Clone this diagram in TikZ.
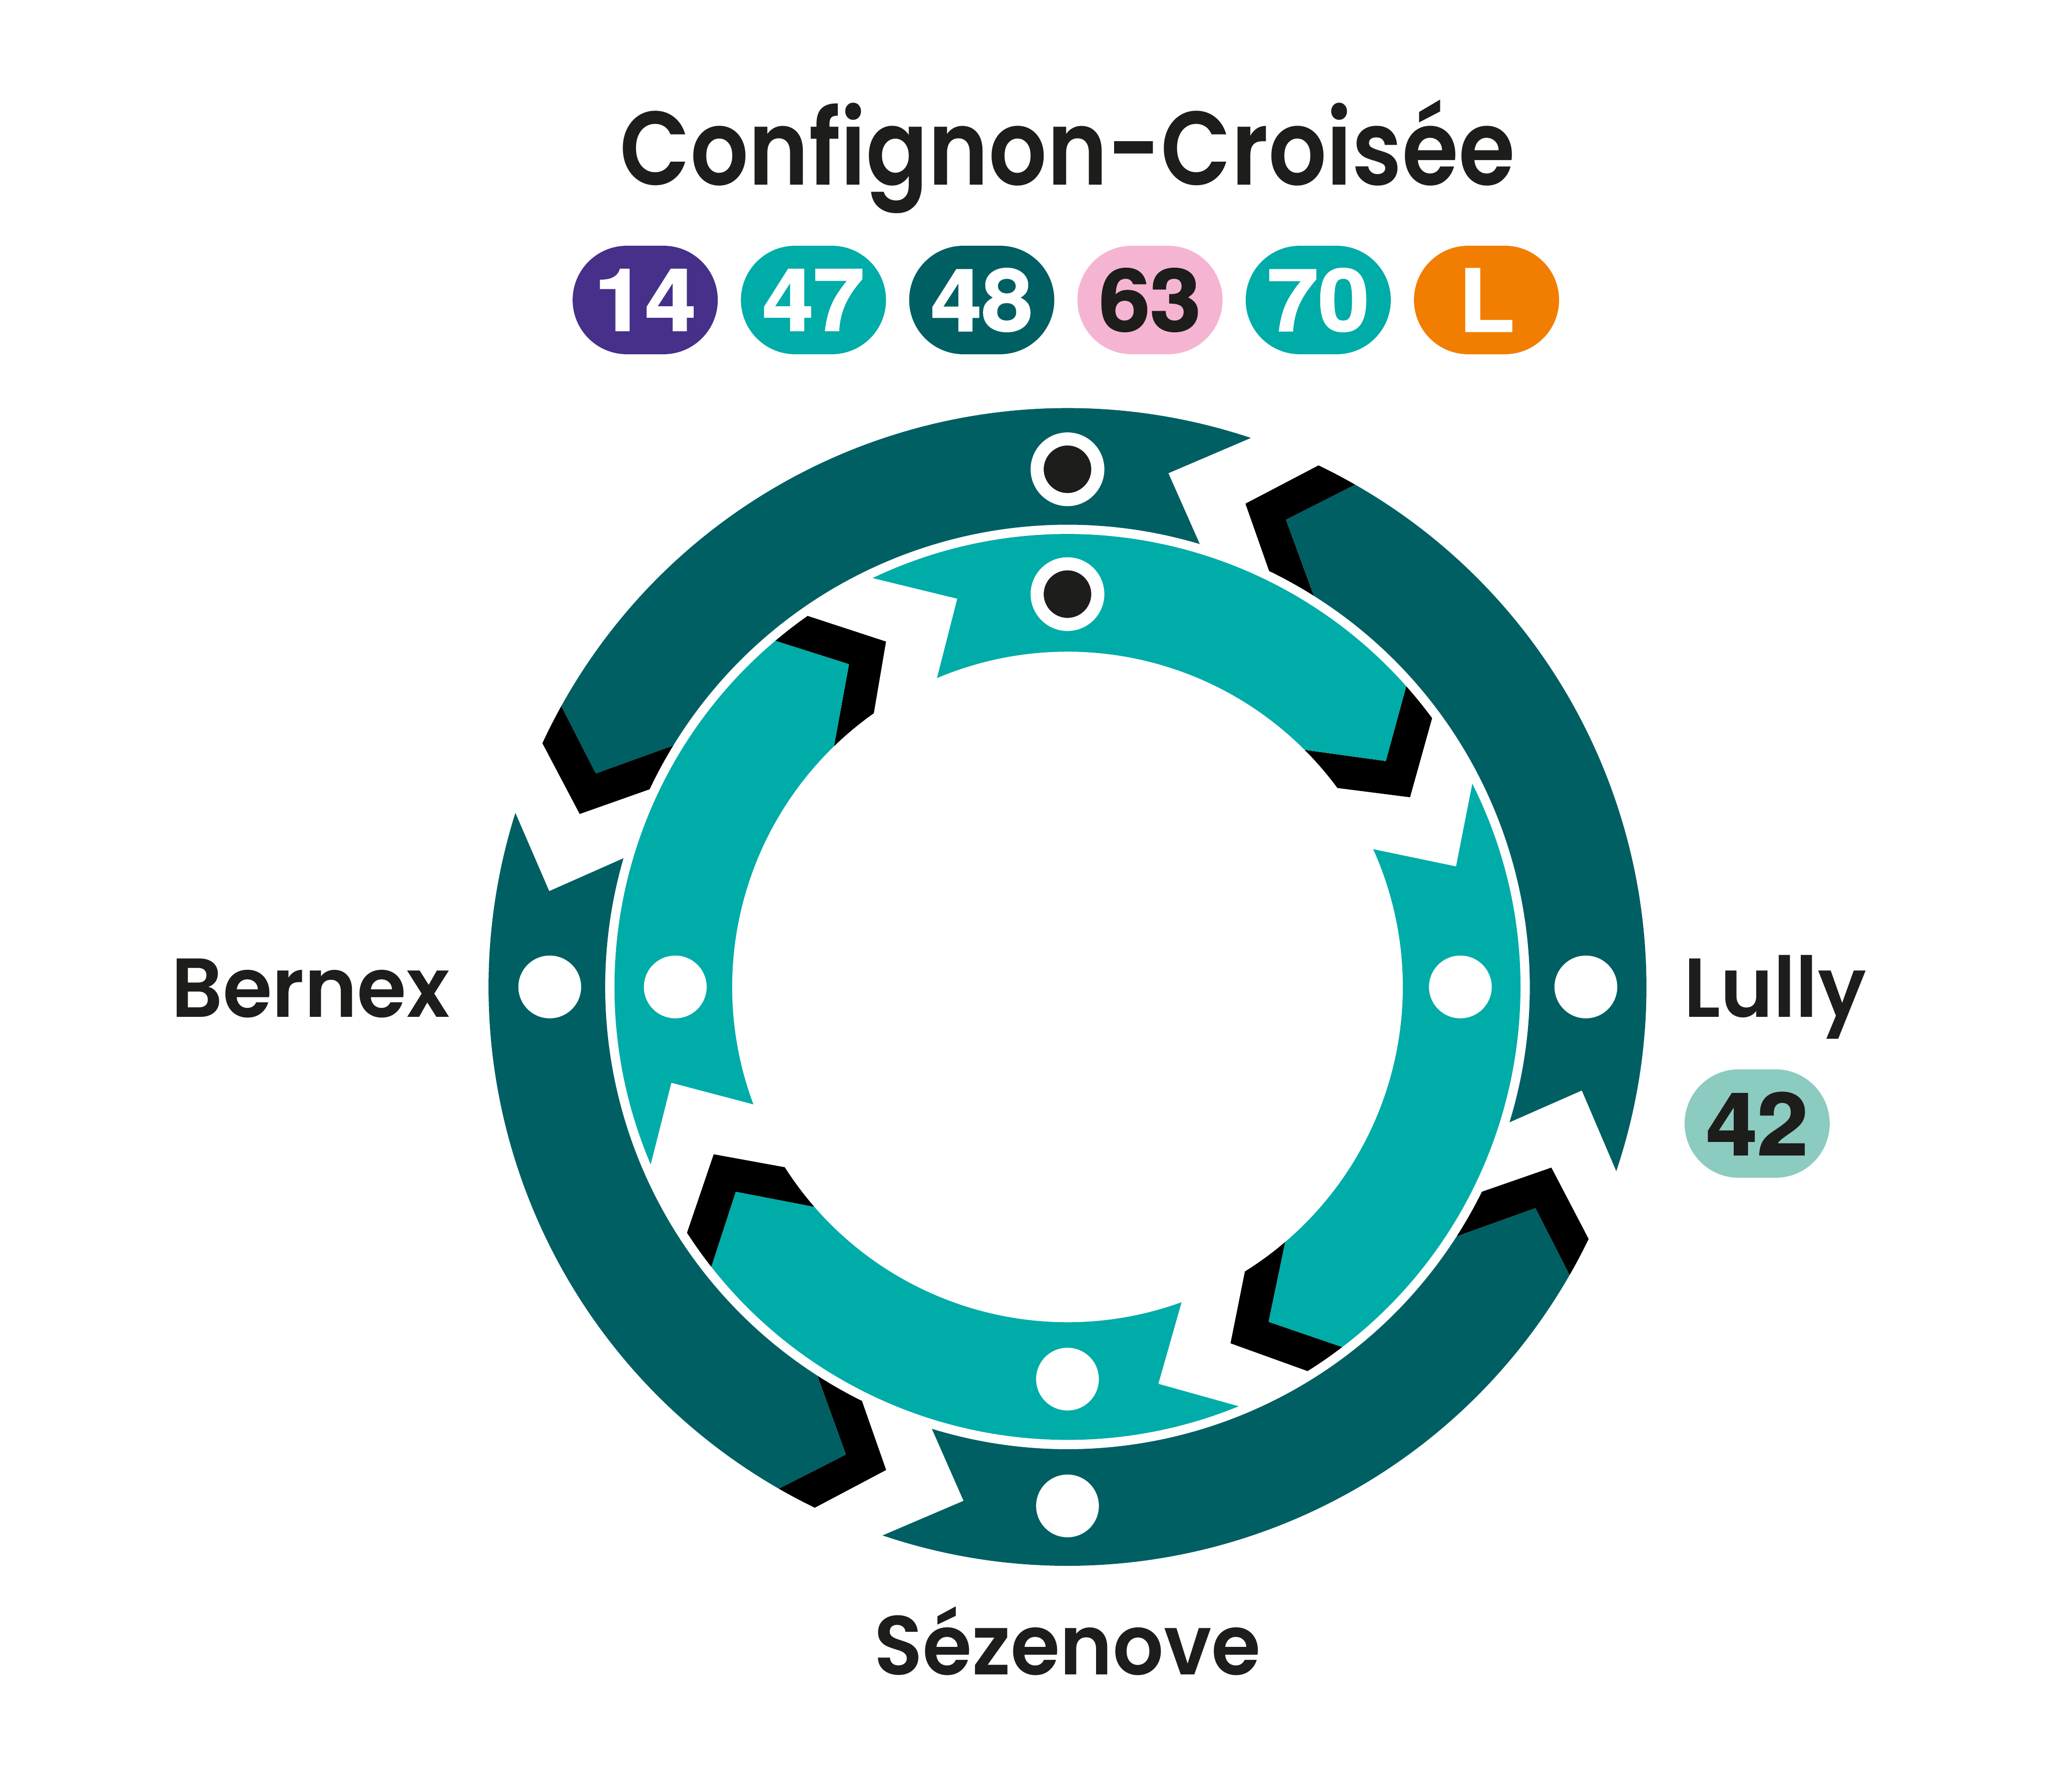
\documentclass[tikz,border=0pt]{standalone}
\usepackage{fontspec}
\setmainfont{Poppins SemiBold}[FakeStretch=0.955]
\newfontfamily\titlefont{Poppins SemiBold}[FakeStretch=0.875]
\newfontfamily\badgefont{TeX Gyre Heros}[BoldFeatures={FakeBold=1.6,FakeStretch=1.06}]
\usetikzlibrary{positioning,shapes.misc}
\definecolor{darkring}{HTML}{005F63}
\definecolor{tealring}{HTML}{00ACA8}
\definecolor{ink}{HTML}{1D1D1B}
\definecolor{linepurple}{HTML}{46308A}
\definecolor{linepink}{HTML}{F5B5D2}
\definecolor{lineorange}{HTML}{F17E00}
\definecolor{linepale}{HTML}{8CCBC0}
\begin{document}
\begin{tikzpicture}[x=1pt,y=1pt]
        \tikzstyle{badge} = [rounded rectangle, minimum width=111pt, minimum height=83pt, inner sep=0pt, text=white, font=\badgefont\bfseries\fontsize{66}{66}\selectfont]
        \tikzstyle{stopdot} = [circle, fill=white, minimum size=48pt, inner sep=0pt]
        \tikzstyle{mainstop} = [circle, fill=ink, draw=white, line width=10pt, minimum size=46.4pt, inner sep=0pt]
        \tikzstyle{title} = [text=ink, font=\titlefont\fontsize{80}{80}\selectfont]
        \tikzstyle{place} = [text=ink, font=\fontsize{64}{64}\selectfont]
        \def\Ro{442.8}
        \def\Ri{353.6}
        \def\ro{346.5}
        \def\ri{256.5}
        \useasboundingbox (-816.5,-615.5) rectangle (751.5,755);

        \fill [black] (150.97:\Ro) arc[start angle=150.97,end angle=155.1,radius=\Ro] -- (-373.1,132.3) -- (154.68:\Ri) arc[start angle=154.68,end angle=148.5,radius=\Ri] -- (-360.8,163.3) -- cycle;
        \fill [darkring] (71.53:\Ro) arc[start angle=71.53,end angle=150.97,radius=\Ro] -- (-360.8,163.3) -- (148.5:\Ri) arc[start angle=148.5,end angle=73.37,radius=\Ri] -- (77.2,393) -- cycle;

        \fill [black] (60.2:\Ro) arc[start angle=60.2,end angle=64.3,radius=\Ro] -- (136.1,369.7) -- (64.14:\Ri) arc[start angle=64.14,end angle=57.8,radius=\Ri] -- (167.1,357.4) -- cycle;
        \fill [darkring] (-18.56:\Ro) arc[start angle=-18.56,end angle=60.2,radius=\Ro] -- (167.1,357.4) -- (57.8:\Ri) arc[start angle=57.8,end angle=-17.03,radius=\Ri] -- (393.4,-79.2) -- cycle;

        \fill [black] (-29.85:\Ro) arc[start angle=-29.85,end angle=-25.81,radius=\Ro] -- (370.1,-138.2) -- (-26.3:\Ri) arc[start angle=-26.3,end angle=-32.66,radius=\Ri] -- (357.9,-169.2) -- cycle;
        \fill [darkring] (251.37:\Ro) arc[start angle=251.37,end angle=330.15,radius=\Ro] -- (357.9,-169.2) -- (327.34:\Ri) arc[start angle=327.34,end angle=252.94,radius=\Ri] -- (-79.5,-393.1) -- cycle;

        \fill [black] (240.09:\Ro) arc[start angle=240.09,end angle=244.12,radius=\Ro] -- (-138.7,-369.5) -- (243.6:\Ri) arc[start angle=243.6,end angle=237.25,radius=\Ri] -- (-169.5,-357.7) -- cycle;
        \fill [darkring] (162.5:\Ro) arc[start angle=162.5,end angle=240.09,radius=\Ro] -- (-169.5,-357.7) -- (237.25:\Ri) arc[start angle=237.25,end angle=163.83,radius=\Ri] -- (-396.4,73.3) -- cycle;

        \fill [black] (41.6:\ro) arc[start angle=41.6,end angle=36.4,radius=\ro] -- (262,145.1) -- (36.4:\ri) arc[start angle=36.4,end angle=45,radius=\ri] -- (243.5,172.8) -- cycle;
        \fill [tealring] (115.48:\ro) arc[start angle=115.48,end angle=41.6,radius=\ro] -- (243.5,172.8) -- (45:\ri) arc[start angle=45,end angle=112.9,radius=\ri] -- (-84.3,297) -- cycle;

        \fill [black] (-52.66:\ro) arc[start angle=-52.66,end angle=-58,radius=\ro] -- (124.7,-272.6) -- (-58.06:\ri) arc[start angle=-58.06,end angle=-49.5,radius=\ri] -- (153.8,-256.2) -- cycle;
        \fill [tealring] (26.66:\ro) arc[start angle=26.66,end angle=-52.66,radius=\ro] -- (153.8,-256.2) -- (-49.5:\ri) arc[start angle=-49.5,end angle=24.26,radius=\ri] -- (297.2,92.2) -- cycle;

        \fill [black] (-141.83:\ro) arc[start angle=-141.83,end angle=-147.13,radius=\ro] -- (-270.6,-128) -- (-147.47:\ri) arc[start angle=-147.47,end angle=-139,radius=\ri] -- (-253.7,-156.7) -- cycle;
        \fill [tealring] (-67.79:\ro) arc[start angle=-67.79,end angle=-141.83,radius=\ro] -- (-253.7,-156.7) -- (-139:\ri) arc[start angle=-139,end angle=-70.11,radius=\ri] -- (69.5,-303.6) -- cycle;

        \fill [black] (130.16:\ro) arc[start angle=130.16,end angle=125,radius=\ro] -- (-138.8,264.2) -- (125.28:\ri) arc[start angle=125.28,end angle=134.13,radius=\ri] -- (-167.1,246.9) -- cycle;
        \fill [tealring] (203.07:\ro) arc[start angle=203.07,end angle=130.16,radius=\ro] -- (-167.1,246.9) -- (134.13:\ri) arc[start angle=134.13,end angle=200.5,radius=\ri] -- (-303,-73.3) -- cycle;

        \node (outertop) [mainstop] at (0,396) {};
        \node (innertop) [mainstop] at (0,300.5) {};
        \node (outerleft) [stopdot] at (-396,0) {};
        \node (innerleft) [stopdot] at (-300,0) {};
        \node (innerright) [stopdot] at (300.5,0) {};
        \node (outerright) [stopdot] at (396.5,0) {};
        \node (innerbottom) [stopdot] at (0,-300) {};
        \node (outerbottom) [stopdot] at (0,-397) {};

        \node (confignon) [title, anchor=base] at (0,613.5) {Confignon-Croisée};
        \node (bernex) [place, anchor=base east] at (-469,-23) {Bernex};
        \node (lully) [place, anchor=base west] at (468,-23) {Lully};
        \node (sezenove) [place, anchor=base] at (0,-526) {Sézenove};

        \node (line14) [badge, fill=linepurple] at (-323,525.5) {14};
        \node (line47) [badge, fill=tealring, right=17.3pt of line14] {47};
        \node (line48) [badge, fill=darkring, right=17.3pt of line47] {48};
        \node (line63) [badge, fill=linepink, text=ink, right=17.3pt of line48] {63};
        \node (line70) [badge, fill=tealring, right=17.3pt of line63] {70};
        \node (lineL) [badge, fill=lineorange, right=17.3pt of line70] {L};
        \node (line42) [badge, fill=linepale, text=ink] at (527.5,-104.5) {42};
    \end{tikzpicture}
\end{document}
